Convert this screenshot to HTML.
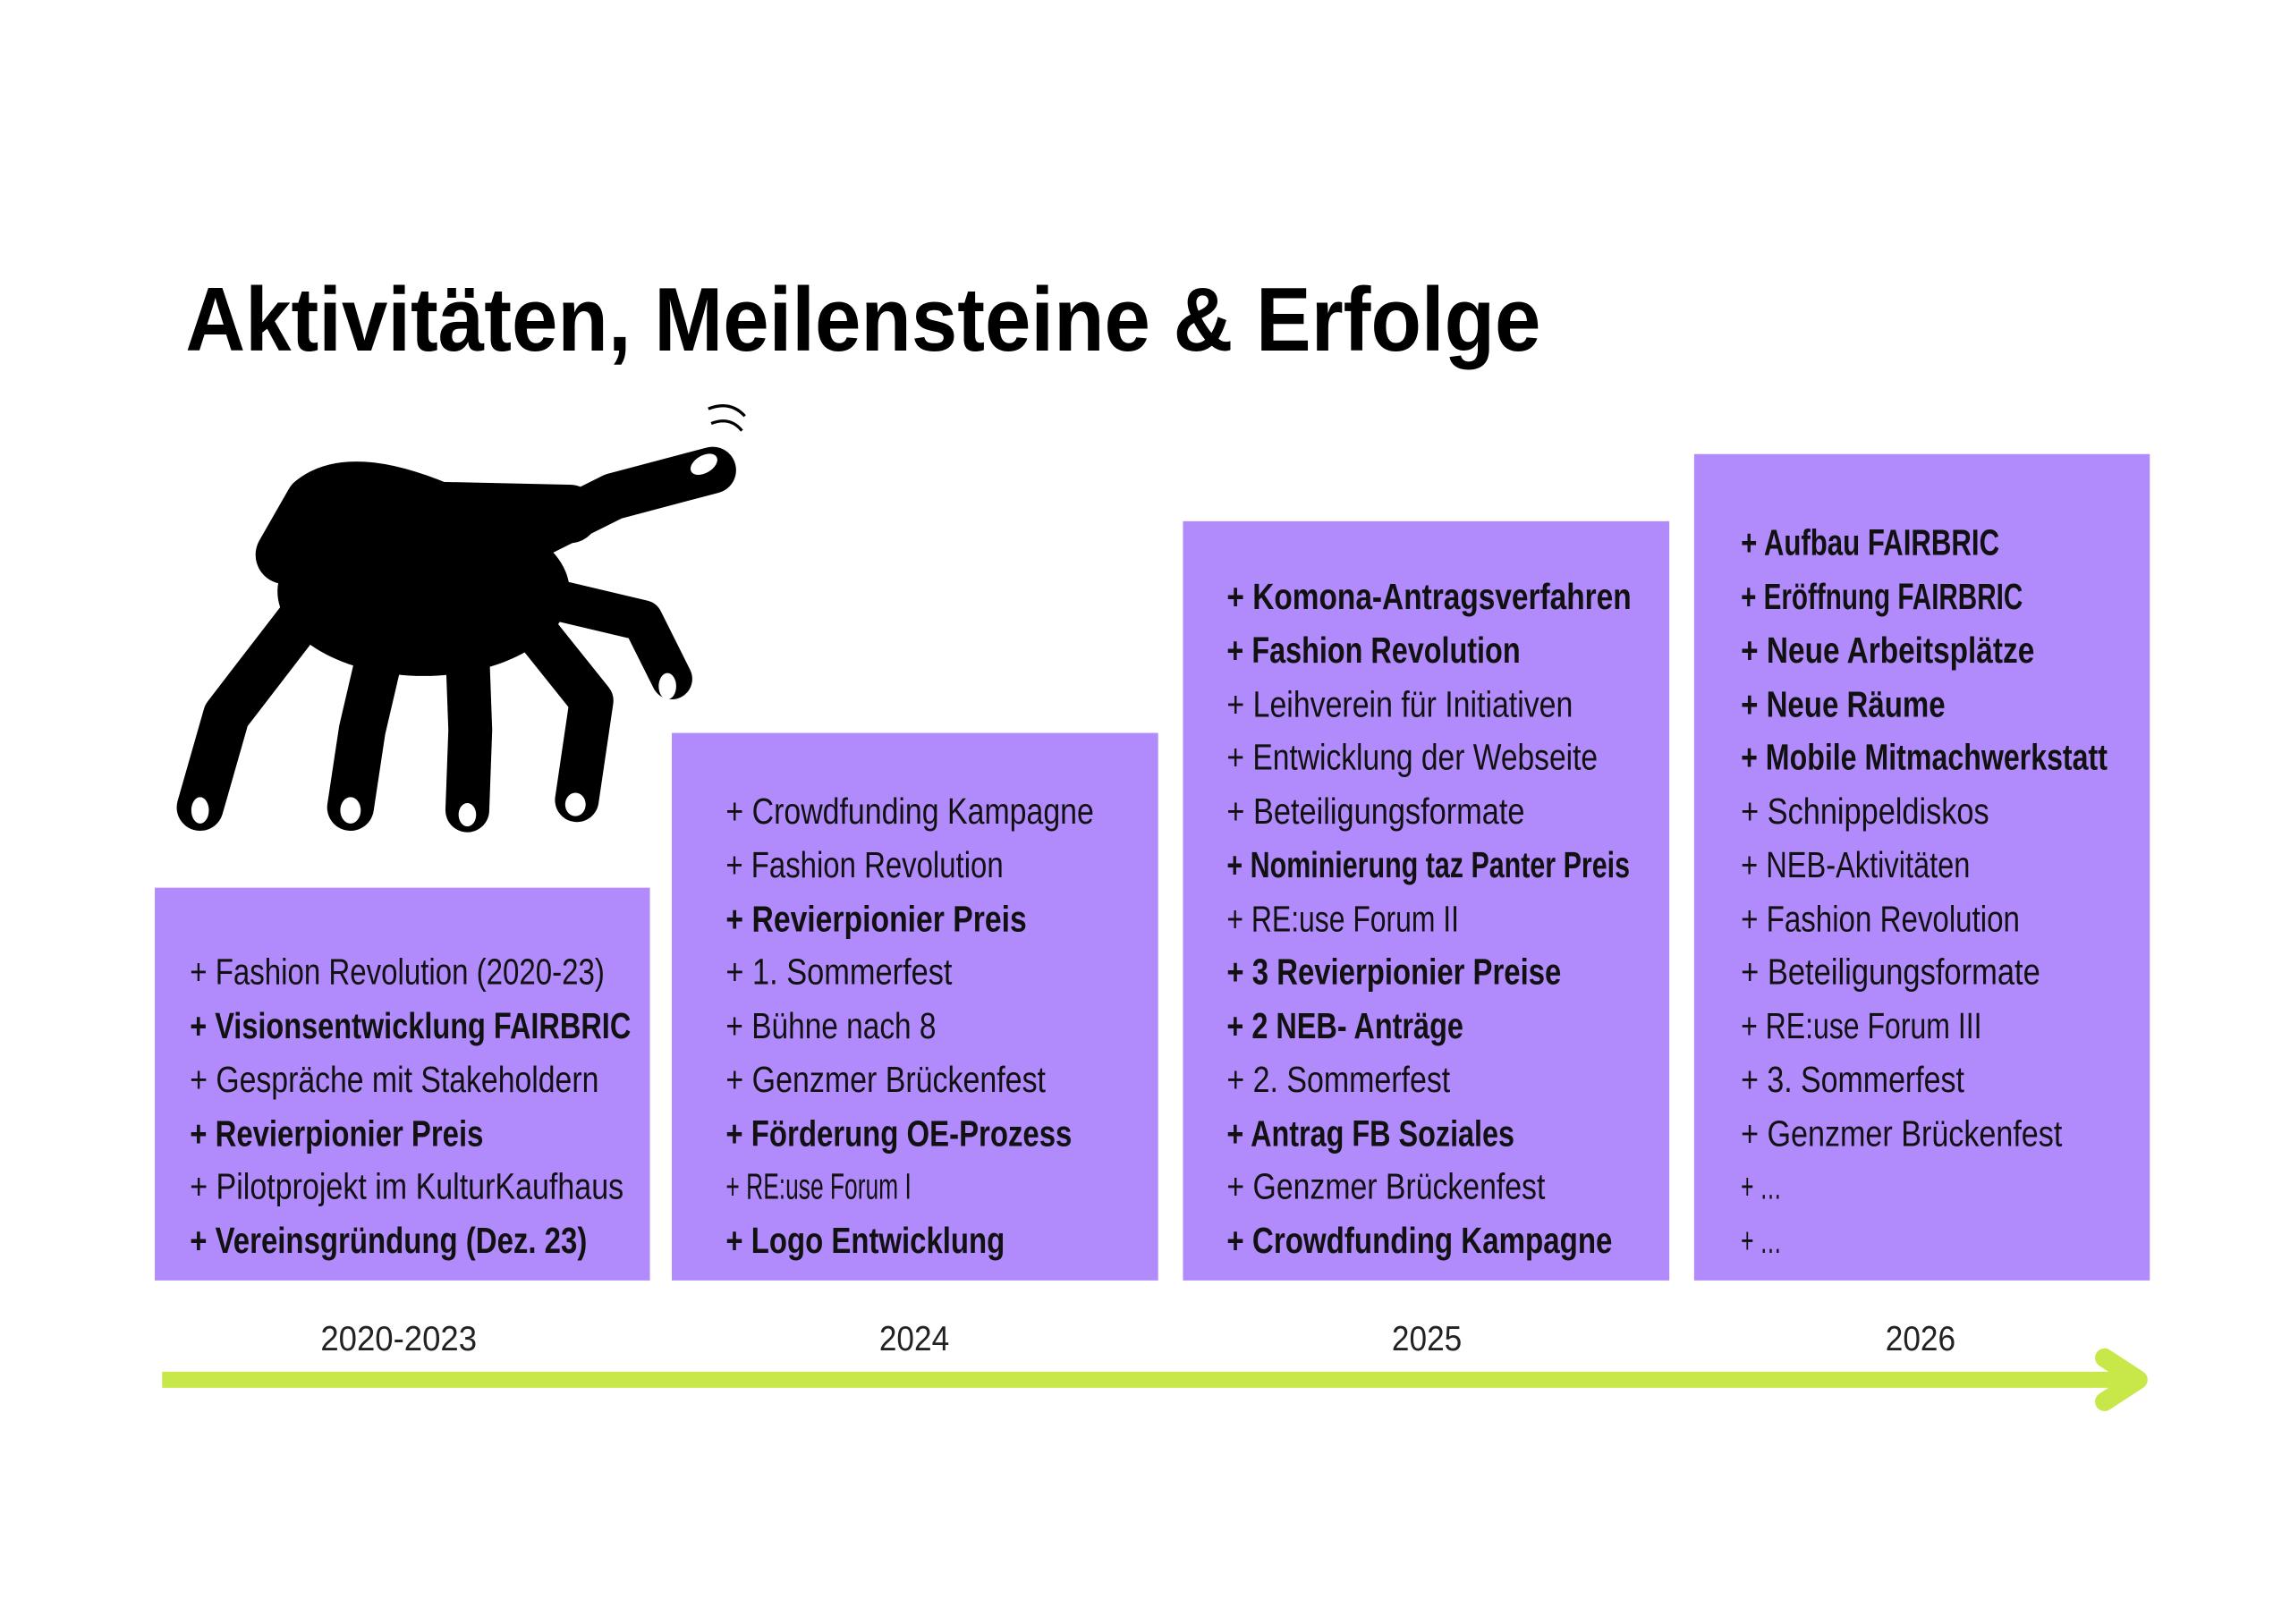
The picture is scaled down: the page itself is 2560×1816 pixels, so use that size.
<!DOCTYPE html>
<html><head><meta charset="utf-8"><style>html,body{margin:0;padding:0;background:#fff}svg{display:block}</style></head>
<body>
<svg width="2560" height="1816" viewBox="0 0 1568 1112.3" xmlns="http://www.w3.org/2000/svg" font-family="Liberation Sans, sans-serif">
<rect width="1568" height="1112.3" fill="#fff"/>
<text x="127" y="240" font-size="62" font-weight="bold" textLength="928" lengthAdjust="spacingAndGlyphs" fill="#000">Aktivitäten, Meilensteine &amp; Erfolge</text>
<!-- hand -->
<g fill="#000" stroke="#000" stroke-linecap="round" stroke-linejoin="round">
<ellipse cx="290" cy="405" rx="100" ry="58" stroke="none"/>
<path d="M195,380 L215,345 Q240,325 300,350 L390,352" stroke-width="40" fill="none"/>
<path d="M370,365 L420,340 L488,322" stroke-width="32" fill="none"/>
<path d="M205,425 L155,490 L137,553" stroke-width="32" fill="none"/>
<path d="M262,440 L248,500 L240,553" stroke-width="32" fill="none"/>
<path d="M320,445 L322,500 L320,555" stroke-width="30" fill="none"/>
<path d="M365,430 L405,480 L395,548" stroke-width="30" fill="none"/>
<path d="M385,412 L440,425 L460,465" stroke-width="28" fill="none"/>
</g>
<g fill="#fff">
<ellipse cx="137" cy="555" rx="6" ry="9"/>
<ellipse cx="240" cy="555" rx="7" ry="9"/>
<ellipse cx="320" cy="558" rx="6" ry="8"/>
<ellipse cx="394" cy="551" rx="7" ry="8"/>
<ellipse cx="457" cy="470" rx="6" ry="9"/>
<ellipse cx="482" cy="318" rx="10" ry="6" transform="rotate(-30 482 318)"/>
</g>
<g stroke="#000" stroke-width="2" fill="none">
<path d="M487,290 Q500,285 508,295"/><path d="M485,280 Q500,274 510,285"/>
</g>
<!-- boxes -->
<g fill="#b18afc">
<rect x="106" y="608" width="339" height="269"/>
<rect x="460" y="502" width="333" height="375"/>
<rect x="810" y="357" width="333" height="520"/>
<rect x="1160" y="311" width="312" height="566"/>
</g>
<g font-size="25" fill="#111">
<text x="130" y="674" textLength="284" lengthAdjust="spacingAndGlyphs">+ Fashion Revolution (2020-23)</text>
<text x="130" y="711" textLength="302" lengthAdjust="spacingAndGlyphs" font-weight="bold">+ Visionsentwicklung FAIRBRIC</text>
<text x="130" y="748" textLength="280" lengthAdjust="spacingAndGlyphs">+ Gespräche mit Stakeholdern</text>
<text x="130" y="785" textLength="201" lengthAdjust="spacingAndGlyphs" font-weight="bold">+ Revierpionier Preis</text>
<text x="130" y="821" textLength="297" lengthAdjust="spacingAndGlyphs">+ Pilotprojekt im KulturKaufhaus</text>
<text x="130" y="858" textLength="272" lengthAdjust="spacingAndGlyphs" font-weight="bold">+ Vereinsgründung (Dez. 23)</text>

<text x="497" y="564" textLength="252" lengthAdjust="spacingAndGlyphs">+ Crowdfunding Kampagne</text>
<text x="497" y="601" textLength="190" lengthAdjust="spacingAndGlyphs">+ Fashion Revolution</text>
<text x="497" y="638" textLength="206" lengthAdjust="spacingAndGlyphs" font-weight="bold">+  Revierpionier Preis</text>
<text x="497" y="674" textLength="155" lengthAdjust="spacingAndGlyphs">+  1. Sommerfest</text>
<text x="497" y="711" textLength="144" lengthAdjust="spacingAndGlyphs">+ Bühne nach 8</text>
<text x="497" y="748" textLength="219" lengthAdjust="spacingAndGlyphs">+ Genzmer Brückenfest</text>
<text x="497" y="785" textLength="237" lengthAdjust="spacingAndGlyphs" font-weight="bold">+ Förderung OE-Prozess</text>
<text x="497" y="821" textLength="127" lengthAdjust="spacingAndGlyphs">+ RE:use Forum I</text>
<text x="497" y="858" textLength="191" lengthAdjust="spacingAndGlyphs" font-weight="bold">+ Logo Entwicklung</text>

<text x="840" y="417" textLength="277" lengthAdjust="spacingAndGlyphs" font-weight="bold">+ Komona-Antragsverfahren</text>
<text x="840" y="454" textLength="201" lengthAdjust="spacingAndGlyphs" font-weight="bold">+ Fashion Revolution</text>
<text x="840" y="491" textLength="237" lengthAdjust="spacingAndGlyphs">+ Leihverein für Initiativen</text>
<text x="840" y="527" textLength="254" lengthAdjust="spacingAndGlyphs">+ Entwicklung der Webseite</text>
<text x="840" y="564" textLength="204" lengthAdjust="spacingAndGlyphs">+ Beteiligungsformate</text>
<text x="840" y="601" textLength="276" lengthAdjust="spacingAndGlyphs" font-weight="bold">+ Nominierung taz Panter Preis</text>
<text x="840" y="638" textLength="159" lengthAdjust="spacingAndGlyphs">+ RE:use Forum II</text>
<text x="840" y="674" textLength="229" lengthAdjust="spacingAndGlyphs" font-weight="bold">+ 3 Revierpionier Preise</text>
<text x="840" y="711" textLength="162" lengthAdjust="spacingAndGlyphs" font-weight="bold">+ 2 NEB- Anträge</text>
<text x="840" y="748" textLength="153" lengthAdjust="spacingAndGlyphs">+ 2. Sommerfest</text>
<text x="840" y="785" textLength="197" lengthAdjust="spacingAndGlyphs" font-weight="bold">+ Antrag FB Soziales</text>
<text x="840" y="821" textLength="218" lengthAdjust="spacingAndGlyphs">+ Genzmer Brückenfest</text>
<text x="840" y="858" textLength="264" lengthAdjust="spacingAndGlyphs" font-weight="bold">+ Crowdfunding Kampagne</text>

<text x="1192" y="380" textLength="177" lengthAdjust="spacingAndGlyphs" font-weight="bold">+ Aufbau FAIRBRIC</text>
<text x="1192" y="417" textLength="193" lengthAdjust="spacingAndGlyphs" font-weight="bold">+ Eröffnung FAIRBRIC</text>
<text x="1192" y="454" textLength="201" lengthAdjust="spacingAndGlyphs" font-weight="bold">+ Neue Arbeitsplätze</text>
<text x="1192" y="491" textLength="140" lengthAdjust="spacingAndGlyphs" font-weight="bold">+ Neue Räume</text>
<text x="1192" y="527" textLength="251" lengthAdjust="spacingAndGlyphs" font-weight="bold">+ Mobile Mitmachwerkstatt</text>
<text x="1192" y="564" textLength="170" lengthAdjust="spacingAndGlyphs">+ Schnippeldiskos</text>
<text x="1192" y="601" textLength="157" lengthAdjust="spacingAndGlyphs">+ NEB-Aktivitäten</text>
<text x="1192" y="638" textLength="191" lengthAdjust="spacingAndGlyphs">+ Fashion Revolution</text>
<text x="1192" y="674" textLength="205" lengthAdjust="spacingAndGlyphs">+ Beteiligungsformate</text>
<text x="1192" y="711" textLength="165" lengthAdjust="spacingAndGlyphs">+ RE:use Forum III</text>
<text x="1192" y="748" textLength="153" lengthAdjust="spacingAndGlyphs">+ 3. Sommerfest</text>
<text x="1192" y="785" textLength="220" lengthAdjust="spacingAndGlyphs">+ Genzmer Brückenfest</text>
<text x="1192" y="821" textLength="28" lengthAdjust="spacingAndGlyphs">+ …</text>
<text x="1192" y="858" textLength="28" lengthAdjust="spacingAndGlyphs">+ …</text>
</g>
<g font-size="24" fill="#222" text-anchor="middle">
<text x="273" y="925" textLength="107" lengthAdjust="spacingAndGlyphs">2020-2023</text>
<text x="626" y="925" textLength="48" lengthAdjust="spacingAndGlyphs">2024</text>
<text x="977" y="925" textLength="48" lengthAdjust="spacingAndGlyphs">2025</text>
<text x="1315" y="925" textLength="48" lengthAdjust="spacingAndGlyphs">2026</text>
</g>
<g stroke="#c8e84a" stroke-linejoin="round" fill="none">
<line x1="111" y1="945" x2="1460" y2="945" stroke-width="11"/>
<path d="M1441,930 L1464,945 L1441,960" stroke-width="13" stroke-linecap="round"/>
</g>
</svg>
</body></html>
